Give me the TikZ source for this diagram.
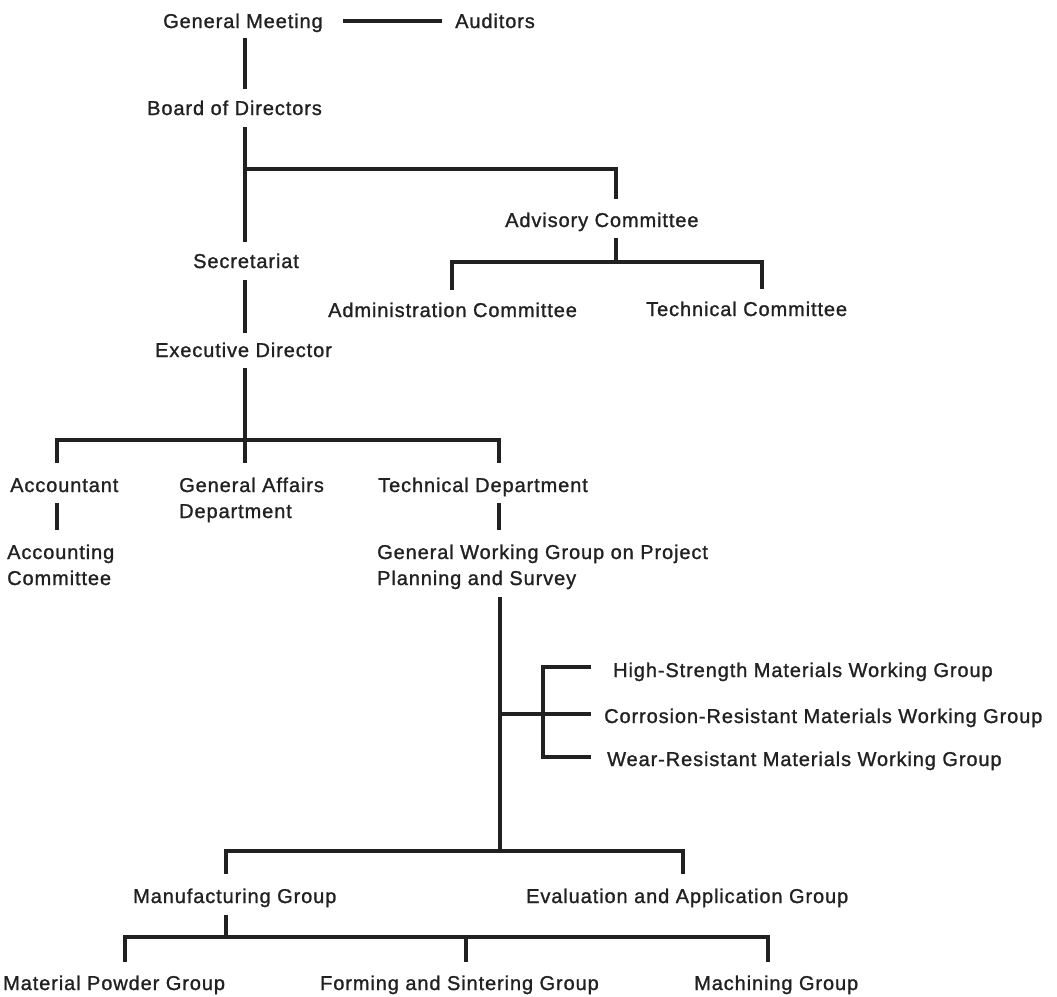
\documentclass[tikz,border=0pt]{standalone}
\usepackage{fontspec}
\setmainfont{Liberation Sans}[LetterSpace=4.5, FakeBold=1.2]
\definecolor{ink}{gray}{0.13}
\newcommand{\lbf}{\fontsize{20}{26}\selectfont}
\newcommand{\two}[2]{\begin{tabular}[t]{@{}l@{}}#1\\#2\end{tabular}}
\begin{document}
\begin{tikzpicture}[x=1pt,y=-1pt,
  lbl/.style={inner sep=0pt, anchor=base west, font=\lbf, text=ink, text height=14pt, text depth=4pt},
  lbltwo/.style={inner sep=0pt, anchor=base west, font=\lbf, text=ink},
  wire/.style={draw=ink, line width=3.2pt}]
\useasboundingbox (0,0) rectangle (1057,996);
% nodes
\node[lbl] (gm)   at (163,28)  {General Meeting};
\node[lbl] (aud)  at (455,28)  {Auditors};
\node[lbl] (bod)  at (147,115) {Board of Directors};
\node[lbl] (sec)  at (193,268) {Secretariat};
\node[lbl] (adv)  at (505,227) {Advisory Committee};
\node[lbl] (adm)  at (328,317) {Administration Committee};
\node[lbl] (tcom) at (646,316) {Technical Committee};
\node[lbl] (exd)  at (155,357) {Executive Director};
\node[lbl] (acct) at (10,492)  {Accountant};
\node[lbltwo] (gaf) at (179,492) {\two{General Affairs}{Department}};
\node[lbl] (tdep) at (378,492) {Technical Department};
\node[lbltwo] (accom) at (7,559) {\two{Accounting}{Committee}};
\node[lbltwo] (gwg) at (377,559) {\two{General Working Group on Project}{Planning and Survey}};
\node[lbl] (hs)   at (613,677) {High-Strength Materials Working Group};
\node[lbl] (cr)   at (604,723) {Corrosion-Resistant Materials Working Group};
\node[lbl] (wr)   at (607,766) {Wear-Resistant Materials Working Group};
\node[lbl] (mfg)  at (133,903) {Manufacturing Group};
\node[lbl] (eval) at (526,903) {Evaluation and Application Group};
\node[lbl] (mp)   at (3,990)   {Material Powder Group};
\node[lbl] (fs)   at (320,990) {Forming and Sintering Group};
\node[lbl] (mach) at (694,990) {Machining Group};
% helper coordinates (x positions of vertical runs and bus junctions)
\coordinate (trunk) at (245,0);
\coordinate (advx) at (616,0);
\coordinate (admx) at (452,0);
\coordinate (tcx) at (762,0);
\coordinate (accx) at (57,0);
\coordinate (tdx) at (499,0);
\coordinate (gx) at (500,0);
\coordinate (mfx) at (226,0);
\coordinate (evx) at (683,0);
\coordinate (mpx) at (125,0);
\coordinate (fsx) at (466,0);
\coordinate (mcx) at (768,0);
\coordinate (j1) at (245,169);
\coordinate (j2) at (616,262);
\coordinate (j3) at (245,440);
\coordinate (j4) at (500,714);
\coordinate (sj) at (543,714);
\coordinate (j5) at (500,851);
\coordinate (j6) at (226,937);
\coordinate (j7) at (466,937);
% connectors
\draw[wire] ([xshift=20pt,yshift=2pt]gm.east) -- ([xshift=-13pt,yshift=2pt]aud.west);
\draw[wire, shorten <=6pt, shorten >=12pt] (gm.south -| trunk) -- (bod.north -| trunk);
\draw[wire, shorten <=8pt, shorten >=12pt] (bod.south -| trunk) -- (sec.north -| trunk);
\draw[wire, shorten >=14pt] (j1) -| (adv.north -| advx);
\draw[wire, shorten <=7pt] (adv.south -| advx) -- (j2);
\draw[wire, shorten <=13pt, shorten >=13pt] (adm.north -| admx) |- (j2) -| (tcom.north -| tcx);
\draw[wire, shorten <=8pt, shorten >=10pt] (sec.south -| trunk) -- (exd.north -| trunk);
\draw[wire, shorten <=7pt, shorten >=11pt] (exd.south -| trunk) -- (gaf.north -| trunk);
\draw[wire, shorten <=15pt, shorten >=15pt] (acct.north -| accx) |- (j3) -| (tdep.north -| tdx);
\draw[wire, shorten <=7pt, shorten >=11pt] (acct.south -| accx) -- (accom.north -| accx);
\draw[wire, shorten <=7pt, shorten >=11pt] (tdep.south -| tdx) -- (gwg.north -| tdx);
\draw[wire, shorten <=4pt] (gwg.south -| gx) -- (j5);
\draw[wire, shorten >=13pt] (j4) -- ([yshift=4pt]cr.west);
\draw[wire, shorten <=22pt, shorten >=16pt] ([yshift=5pt]hs.west) -| (sj) |- ([yshift=4pt]wr.west);
\draw[wire, shorten <=15pt, shorten >=15pt] (mfg.north -| mfx) |- (j5) -| (eval.north -| evx);
\draw[wire, shorten <=8pt] (mfg.south -| mfx) -- (j6);
\draw[wire, shorten <=14pt, shorten >=14pt] (mp.north -| mpx) |- (j6) -| (mach.north -| mcx);
\draw[wire, shorten >=14pt] (j7) -- (fs.north -| fsx);
\end{tikzpicture}
\end{document}
